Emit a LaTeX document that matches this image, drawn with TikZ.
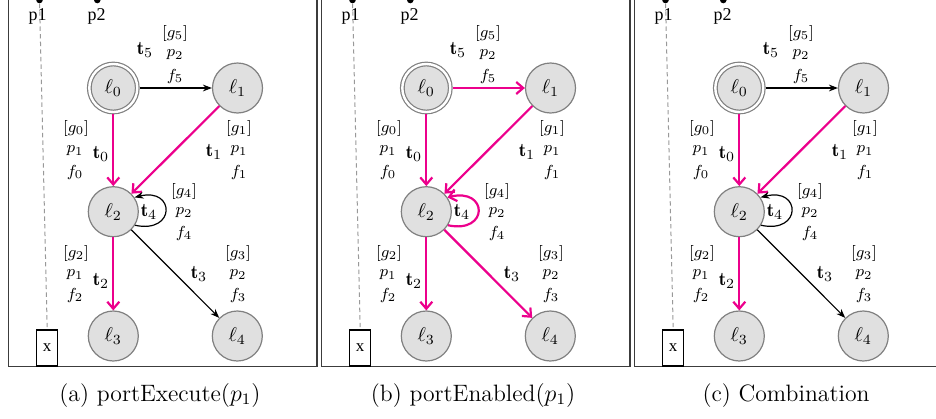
\documentclass[tikz,border=0pt]{standalone}
\usepackage{fontspec}
\newfontfamily\timesf{Liberation Serif}
\usetikzlibrary{arrows.meta}
\definecolor{mag}{RGB}{236,0,140}
\definecolor{nfill}{RGB}{224,224,224}
\definecolor{nline}{RGB}{128,128,128}
\definecolor{fr}{RGB}{60,60,60}
\tikzset{
 loc/.style={circle, draw=nline, fill=nfill, line width=0.6pt, minimum size=25pt, inner sep=0pt, font=\fontsize{10.2}{12}\selectfont},
 initloc/.style={loc, minimum size=24pt, double=white, double distance=1.2pt, outer sep=1.2pt},
 pk/.style={draw=mag, line width=1.1pt, -{Straight Barb[length=3.5pt,width=6pt]}},
 bk/.style={draw=black, line width=0.6pt, -{Stealth[length=4.5pt,width=3.4pt]}},
 tl/.style={font=\fontsize{9.5}{11}\selectfont, inner sep=0pt},
 gl/.style={font=\fontsize{8}{9}\selectfont, inner sep=0pt},
 frame/.style={draw=fr, line width=0.9pt},
 dotn/.style={circle, fill=black, minimum size=3.3pt, inner sep=0pt},
 plab/.style={font=\timesf\fontsize{9}{10}\selectfont, inner sep=0pt},
 xbox/.style={draw=black, line width=0.7pt, minimum width=10.5pt, minimum height=18pt, inner sep=0pt, font=\timesf\fontsize{8.5}{9}\selectfont},
 dashln/.style={draw=gray!80, line width=0.5pt, dash pattern=on 2.2pt off 1.6pt},
 captxt/.style={font=\fontsize{11.85}{14}\selectfont, inner sep=0pt, anchor=base}
}
\newcommand\drawpanel[6]{%
\begin{scope}[shift={(#2,0)}]
 \draw[frame] (8.5,10) -- (8.5,-366.5) -- (317.3,-366.5) -- (317.3,10);
 \node[dotn] (#1d1) at (39.5,0) {};
 \node[dotn] (#1d2) at (97.3,0) {};
 \node[plab] (#1p1) at (37.7,-16) {p1};
 \node[plab] (#1p2) at (96.7,-16) {p2};
 \node[xbox] (#1xb) at (47.2,-348) {x};
 \draw[dashln] (#1d1) -- (#1xb.north);
 \node[initloc] (#1l0) at (113.3,-88) {$\ell_0$};
 \node[loc] (#1l1) at (237.5,-88) {$\ell_1$};
 \node[loc] (#1l2) at (113.3,-211.7) {$\ell_2$};
 \node[loc] (#1l3) at (113.3,-336) {$\ell_3$};
 \node[loc] (#1l4) at (237.3,-336) {$\ell_4$};
 \draw[#4] (#1l0) -- (#1l1);
 \draw[pk] (#1l0) -- (#1l2);
 \draw[pk] (#1l1) -- (#1l2);
 \draw[pk] (#1l2) -- (#1l3);
 \draw[#6] (#1l2) -- (#1l4);
 \draw[#5] (#1l2.-32) .. controls +(-12:42) and +(14:42) .. (#1l2.34);
 \node[tl] (#1t5) at (145,-50) {$\mathbf{t}_5$};
 \node[gl] (#1g5) at (175,-33) {$[g_5]$};
 \node[gl] (#1q5) at (175,-55) {$p_2$};
 \node[gl] (#1f5) at (175,-76) {$f_5$};
 \node[tl] (#1t0) at (101,-154) {$\mathbf{t}_0$};
 \node[gl] (#1g0) at (76,-128) {$[g_0]$};
 \node[gl] (#1q0) at (75,-151) {$p_1$};
 \node[gl] (#1f0) at (75,-172) {$f_0$};
 \node[tl] (#1t1) at (214,-152) {$\mathbf{t}_1$};
 \node[gl] (#1g1) at (239,-128) {$[g_1]$};
 \node[gl] (#1q1) at (239,-151) {$p_1$};
 \node[gl] (#1f1) at (239,-172) {$f_1$};
 \node[tl] (#1t4) at (149,-212) {$\mathbf{t}_4$};
 \node[gl] (#1g4) at (184,-191) {$[g_4]$};
 \node[gl] (#1q4) at (184,-213) {$p_2$};
 \node[gl] (#1f4) at (184,-233) {$f_4$};
 \node[tl] (#1t2) at (101,-281) {$\mathbf{t}_2$};
 \node[gl] (#1g2) at (76,-253) {$[g_2]$};
 \node[gl] (#1q2) at (75,-275) {$p_1$};
 \node[gl] (#1f2) at (75,-295) {$f_2$};
 \node[tl] (#1t3) at (199,-274) {$\mathbf{t}_3$};
 \node[gl] (#1g3) at (238,-253) {$[g_3]$};
 \node[gl] (#1q3) at (238,-275) {$p_2$};
 \node[gl] (#1f3) at (238,-295.5) {$f_3$};
 \node[captxt] (#1cap) at (160,-401) {#3};
\end{scope}}
\begin{document}
\begin{tikzpicture}[x=0.5pt,y=0.5pt]
 \useasboundingbox (0,0) rectangle (936,-418);
 \clip (0,0) rectangle (936,-418);
 \drawpanel{a}{0}{(a) portExecute$(p_1)$}{bk}{bk}{bk}
 \drawpanel{b}{313}{(b) portEnabled$(p_1)$}{pk}{pk}{pk}
 \drawpanel{c}{626}{(c) Combination}{bk}{bk}{bk}
\end{tikzpicture}
\end{document}
